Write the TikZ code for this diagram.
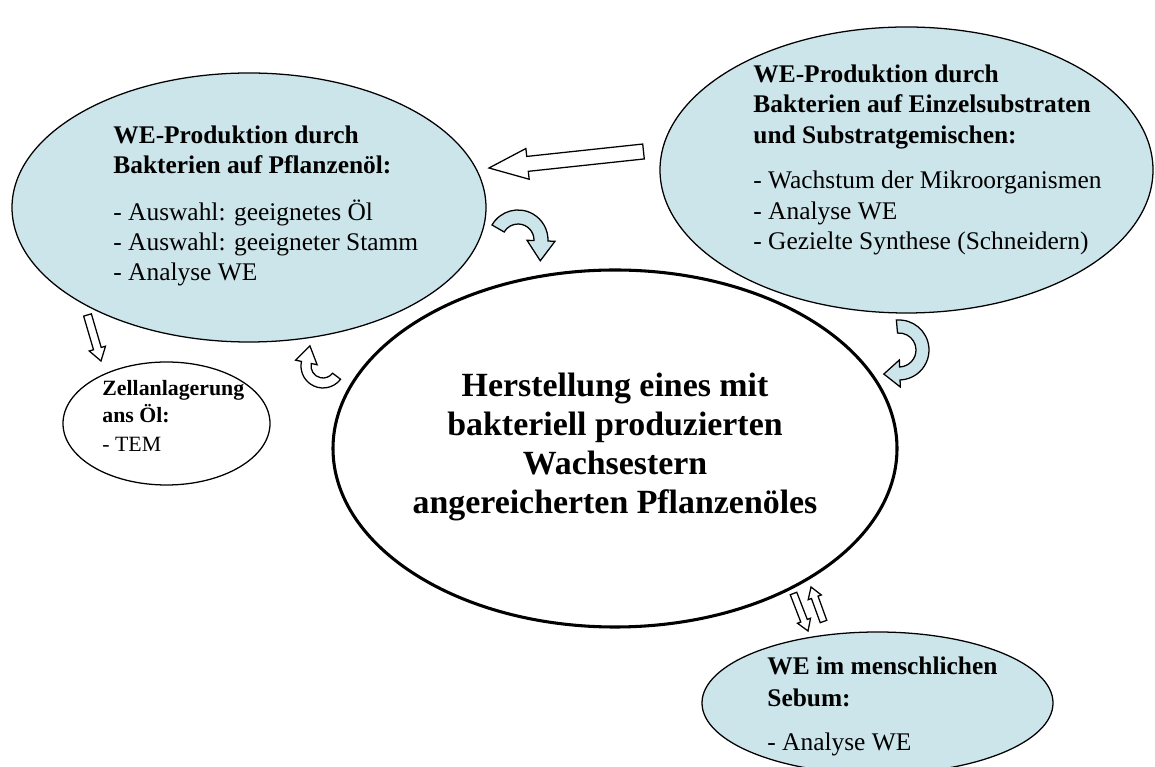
\documentclass[tikz,border=0pt]{standalone}
\usepackage{fontspec}
\setmainfont{Liberation Serif}
\usetikzlibrary{shapes.geometric,calc}
\definecolor{bubblefill}{RGB}{204,229,234}
\newcommand\pxl{0.4724pt}

% straight block arrow: tail, tip, half shaft width, half head width, head length, style
\newcommand\blockarrow[6]{%
  \coordinate (ba-h) at ($(#2)!#5!(#1)$);
  \draw[#6] ($(#1)!#3!90:(#2)$) -- ($(ba-h)!#3!90:(#2)$) -- ($(ba-h)!#4!90:(#2)$)
    -- (#2) -- ($(ba-h)!#4!-90:(#2)$) -- ($(ba-h)!#3!-90:(#2)$)
    -- ($(#1)!#3!-90:(#2)$) -- cycle;
}
% bent block arrow: centre, inner r, outer r, start angle, end angle,
% head overhang, head length, head direction, style
\newcommand\bendarrow[9]{%
  \pgfmathsetmacro\bamid{(#2+#3)/2}%
  \pgfmathsetmacro\bain{#2-#6}%
  \pgfmathsetmacro\baout{#3+#6}%
  \draw[#9] ($(#1)+(#4:#3)$) arc[start angle=#4, end angle=#5, radius=#3]
    -- ($(#1)+(#5:\baout)$) -- ($(#1)+(#5:\bamid)+(#8:#7)$) -- ($(#1)+(#5:\bain)$)
    -- ($(#1)+(#5:#2)$) arc[start angle=#5, end angle=#4, radius=#2] -- cycle;
}

\begin{document}
\begin{tikzpicture}[x=0.4724pt,y=-0.4724pt,
  sized/.style 2 args={minimum width=#1*\pxl, minimum height=#2*\pxl},
  bubble/.style={ellipse, draw, line width=0.6pt, fill=bubblefill, inner sep=0pt},
  plainbubble/.style={ellipse, draw, line width=0.6pt, fill=white, inner sep=0pt},
  mainbubble/.style={ellipse, draw, line width=1.45pt, fill=white, inner sep=0pt},
  blocktext/.style={anchor=north west, align=left, inner sep=0pt},
  hollow/.style={draw, line width=0.6pt, fill=white, line join=miter},
  tinted/.style={draw, line width=0.6pt, fill=bubblefill, line join=miter}]

\useasboundingbox (0,0) rectangle (1155,767);
\clip (0,0) rectangle (1155,767);
\fill[white] (0,0) rectangle (1155,767);

% bubbles
\node[bubble, sized={474}{269}] (L) at (249,207.5) {};
\node[bubble, sized={493}{286}] (R) at (906.5,170) {};
\node[mainbubble, sized={564}{357}] (C) at (615,448.5) {};
\node[plainbubble, sized={207}{123}] (Z) at (166.5,423.5) {};
\node[bubble, sized={351}{142}] (S) at (877.5,703) {};

% straight arrows
\coordinate (bigTail) at (643.5,151.5);
\coordinate (bigTip) at (489,168);
\blockarrow{bigTail}{bigTip}{3.54pt}{7.3pt}{18.3pt}{hollow}
\coordinate (zTail) at (87.5,315);
\coordinate (zTip) at (101,361);
\blockarrow{zTail}{zTip}{1.9pt}{4pt}{6.1pt}{hollow}
\coordinate (sDownTail) at (793.5,593.5);
\coordinate (sDownTip) at (808,631);
\blockarrow{sDownTail}{sDownTip}{1.65pt}{3.3pt}{5.2pt}{hollow}
\coordinate (sUpTail) at (823.5,621.5);
\coordinate (sUpTip) at (811,587);
\blockarrow{sUpTail}{sUpTip}{1.65pt}{3.3pt}{5.2pt}{hollow}

% bent arrows
\bendarrow{518,240}{16}{30}{-150}{2}{7}{20}{92}{tinted}
\bendarrow{899,350}{17}{30}{-95}{88}{7}{16}{178}{tinted}
\bendarrow{323,366}{12}{22}{37}{192}{6}{17}{282}{hollow}

% texts
\node[blocktext, font=\fontsize{12pt}{14.2pt}\selectfont] (Ltext) at (113,125)
  {\textbf{WE-Produktion durch}\\\textbf{Bakterien auf Pflanzenöl:}\\[8pt]
   - Auswahl: geeignetes Öl\\- Auswahl: geeigneter Stamm\\- Analyse WE};
\node[blocktext, font=\fontsize{12pt}{14.4pt}\selectfont] (Rtext) at (753,64)
  {\textbf{WE-Produktion durch}\\\textbf{Bakterien auf Einzelsubstraten}\\\textbf{und Substratgemischen:}\\[7.3pt]
   - Wachstum der Mikroorganismen\\- Analyse WE\\- Gezielte Synthese (Schneidern)};
\node[anchor=north, align=center, inner sep=0pt, font=\fontsize{16pt}{18.3pt}\selectfont\bfseries] (Ctext) at (615,373)
  {Herstellung eines mit\\bakteriell produzierten\\Wachsestern\\angereicherten Pflanzenöles};
\node[blocktext, font=\fontsize{10.3pt}{12.8pt}\selectfont] (Ztext) at (102,380)
  {\textbf{Zellanlagerung}\\\textbf{ans Öl:}\\[1pt]- TEM};
\node[blocktext, font=\fontsize{12pt}{15.1pt}\selectfont] (Stext) at (767,656)
  {\textbf{WE im menschlichen}\\\textbf{Sebum:}\\[6.1pt]- Analyse WE};
\end{tikzpicture}
\end{document}
